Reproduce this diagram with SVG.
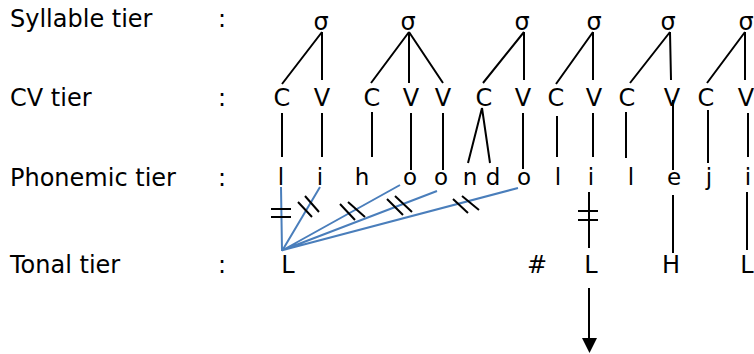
<svg xmlns="http://www.w3.org/2000/svg" width="754" height="354" viewBox="0 0 754 354">
<style>
text{font-family:"DejaVu Sans",sans-serif;fill:#000}
.lab{font-size:24px}
.sym{font-size:24px;text-anchor:middle}
.ph{font-size:23px;text-anchor:middle}
.k{stroke:#000;stroke-width:2;fill:none;stroke-linecap:butt}
.b{stroke:#4a7ebb;stroke-width:2;fill:none}
</style>
<rect width="754" height="354" fill="#fff"/>
<g id="labels">
<text class="lab" x="10" y="27">Syllable tier</text>
<text class="lab" x="10" y="106">CV tier</text>
<text class="lab" x="10" y="186">Phonemic tier</text>
<text class="lab" x="10" y="273">Tonal tier</text>
<text class="sym" x="222" y="27">:</text>
<text class="sym" x="222" y="106">:</text>
<text class="sym" x="222" y="186">:</text>
<text class="sym" x="222" y="273">:</text>
</g>
<g id="syllables">
<text class="sym" x="321" y="30">σ</text>
<text class="sym" x="408" y="30">σ</text>
<text class="sym" x="522" y="30">σ</text>
<text class="sym" x="594" y="30">σ</text>
<text class="sym" x="668" y="30">σ</text>
<text class="sym" x="746" y="30">σ</text>
</g>
<g id="cv">
<text class="sym" x="282" y="106">C</text>
<text class="sym" x="322" y="106">V</text>
<text class="sym" x="372" y="106">C</text>
<text class="sym" x="411" y="106">V</text>
<text class="sym" x="443" y="106">V</text>
<text class="sym" x="484" y="106">C</text>
<text class="sym" x="523" y="106">V</text>
<text class="sym" x="556" y="106">C</text>
<text class="sym" x="594" y="106">V</text>
<text class="sym" x="627" y="106">C</text>
<text class="sym" x="672" y="106">V</text>
<text class="sym" x="706" y="106">C</text>
<text class="sym" x="746" y="106">V</text>
</g>
<g id="phonemes">
<text class="ph" x="281" y="185">l</text>
<text class="ph" x="320" y="185">i</text>
<text class="ph" x="362" y="185">h</text>
<text class="ph" x="410" y="185">o</text>
<text class="ph" x="441" y="185">o</text>
<text class="ph" x="470" y="185">n</text>
<text class="ph" x="493" y="185">d</text>
<text class="ph" x="524" y="185">o</text>
<text class="ph" x="558" y="185">l</text>
<text class="ph" x="591" y="185">i</text>
<text class="ph" x="631" y="185">l</text>
<text class="ph" x="674" y="185">e</text>
<text class="ph" x="709" y="185">j</text>
<text class="ph" x="748" y="185">i</text>
</g>
<g id="tones">
<text class="sym" x="288" y="273">L</text>
<text class="sym" x="537" y="273">#</text>
<text class="sym" x="591" y="273">L</text>
<text class="sym" x="671" y="273">H</text>
<text class="sym" x="747" y="273">L</text>
</g>
<g id="connectors">
<path class="k" d="M322 32L282 84M322 32V80M409 32L371 83M409 32V83M409 32L443 83M524 32L483 83M524 32V80M593 32L556 84M593 32V80M670 32L630 83M670 32L671 80M745 32L707 83M745 32V80"/>
<path class="k" d="M282 113V157M322 113V157M372 112V157M411 113V170M443 113V170M482 108L468 163M482 108L490 163M523 113V169M557 116V157M593 113V157M626 112V158M673 100V170M708 110V163M748 113V157"/>
<path class="k" d="M589 192V248M578 211H598M578 220H598M673 195V253M747 192V250"/>
<path class="b" d="M282 251L281 187M282 251L320 187M283 250L400 185M283 250L437 191M283 250L518 188"/>
<path class="k" d="M271 209H291M271 217H291M298 202L312 217M305 196L319 212M340 204L355 220M348 202L365 217M387 199L403 215M395 196L412 212M453 199L468 213M462 196L479 210"/>
<path class="k" d="M589 288V340"/>
<polygon points="582,338 597,338 589.5,353" fill="#000"/>
</g>
</svg>
